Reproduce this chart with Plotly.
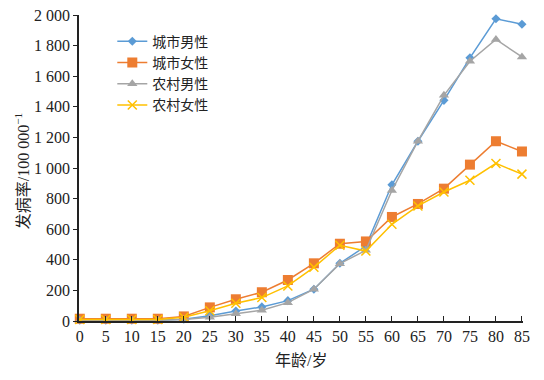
import plotly.graph_objects as go

ages = [0, 5, 10, 15, 20, 25, 30, 35, 40, 45, 50, 55, 60, 65, 70, 75, 80, 85]
urban_male = [5, 5, 5, 5, 12, 35, 65, 92, 133, 208, 377, 490, 890, 1175, 1442, 1720, 1975, 1940]
urban_female = [15, 15, 15, 15, 30, 89, 142, 188, 268, 377, 505, 520, 680, 765, 865, 1022, 1175, 1108]
rural_male = [5, 5, 5, 5, 10, 25, 48, 70, 120, 208, 375, 462, 853, 1175, 1475, 1698, 1840, 1726]
rural_female = [10, 10, 10, 10, 25, 67, 116, 153, 229, 351, 495, 457, 632, 752, 843, 920, 1030, 960]

names = ["城市男性", "城市女性", "农村男性", "农村女性"]
colors = ["#5B9BD5", "#ED7D31", "#A5A5A5", "#FFC000"]
symbols = ["diamond", "square", "triangle-up", "x-thin"]
sizes = [7, 10, 9, 9]
series = [urban_male, urban_female, rural_male, rural_female]

FONT = "'Liberation Serif', 'Times New Roman', 'Noto Sans CJK SC', serif"

fig = go.Figure()
for name, ys, c, s, sz in zip(names, series, colors, symbols, sizes):
    marker = dict(symbol=s, size=sz, color=c)
    if s == "x-thin":
        marker["line"] = dict(color=c, width=1.5)
    fig.add_trace(go.Scatter(
        x=ages, y=ys, name=name, mode="lines+markers",
        line=dict(color=c, width=1.5), marker=marker, cliponaxis=False,
    ))

fig.update_layout(
    width=544, height=380,
    margin=dict(l=79, r=21, t=15, b=59),
    paper_bgcolor="white", plot_bgcolor="white",
    separators=". ",
    font=dict(family=FONT, size=16, color="#222222"),
    showlegend=True,
    legend=dict(
        x=0.075, y=0.965, xanchor="left", yanchor="top",
        bgcolor="rgba(0,0,0,0)", font=dict(size=14, family=FONT),
        itemwidth=30, tracegroupgap=0,
    ),
    xaxis=dict(
        range=[-0.15, 85.2], tickmode="array", tickvals=ages,
        showgrid=False, zeroline=False, showline=True, linecolor="#222222",
        linewidth=1.5, ticks="inside", ticklen=5, tickcolor="#222222",
        automargin=False,
    ),
    yaxis=dict(
        range=[0, 2000], tickmode="array", tickvals=list(range(0, 2001, 200)),
        tickformat=",d",
        showgrid=False, zeroline=False, showline=True, linecolor="#222222",
        linewidth=1.5, ticks="outside", ticklen=4, tickcolor="#222222",
        automargin=False,
    ),
    annotations=[
        dict(text="年龄/岁", xref="paper", yref="paper", x=0.5, y=-0.13,
             xanchor="center", yanchor="middle", showarrow=False,
             font=dict(size=16, family=FONT)),
        dict(text="发病率/100 000<sup>−1</sup>", xref="paper", yref="paper",
             x=-0.128, y=0.49, xanchor="center", yanchor="middle", textangle=-90,
             showarrow=False, font=dict(size=16, family=FONT)),
    ],
)

fig.write_html("out.html", config={"displayModeBar": False},
               post_script="document.body.style.margin='0';document.body.style.padding='0';")
